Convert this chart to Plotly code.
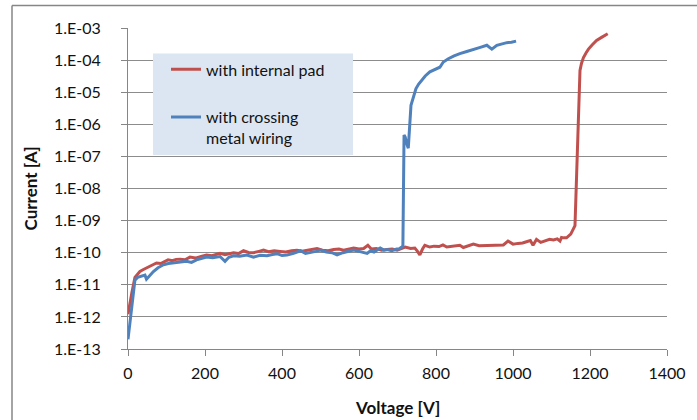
import plotly.graph_objects as go

# ---- data ----
v_internal = [0, 5, 10, 18, 25, 31, 40, 50, 57, 65, 74, 85, 95, 104, 115, 125, 135, 148, 161, 175,
              190, 204, 218, 230, 239, 252, 262, 274, 287, 300, 313, 326, 340, 352, 365, 380, 395, 410,
              425, 439, 452, 465, 478, 491, 505, 520, 534, 548, 560, 573, 586, 600, 612, 623, 632, 645,
              659, 673, 686, 699, 708, 720, 734, 745, 752, 758, 765, 771, 784, 795, 808, 818, 828, 836,
              850, 862, 871, 884, 897, 912, 931, 948, 962, 975, 987, 1000, 1013, 1025, 1035, 1045, 1052,
              1061, 1072, 1085, 1095, 1105, 1115, 1122, 1126, 1132, 1139, 1150, 1161, 1167, 1174, 1178,
              1183, 1190, 1196, 1206, 1217, 1230, 1246]
i_internal = [1.2e-12, 3e-12, 5.6e-12, 1.7e-11, 2.2e-11, 2.6e-11, 3.0e-11, 3.4e-11, 3.8e-11, 4.2e-11,
              4.8e-11, 4.6e-11, 5.3e-11, 6.0e-11, 5.6e-11, 6.2e-11, 6.3e-11, 6.0e-11, 7.3e-11, 6.8e-11,
              7.6e-11, 8.5e-11, 8.0e-11, 8.8e-11, 9.5e-11, 8.6e-11, 9.2e-11, 1.0e-10, 9.4e-11, 1.15e-10,
              1.02e-10, 1.0e-10, 1.1e-10, 1.2e-10, 1.08e-10, 1.15e-10, 1.1e-10, 1.05e-10, 1.15e-10, 1.2e-10,
              1.12e-10, 1.18e-10, 1.25e-10, 1.35e-10, 1.2e-10, 1.15e-10, 1.25e-10, 1.3e-10, 1.2e-10,
              1.28e-10, 1.4e-10, 1.3e-10, 1.35e-10, 1.7e-10, 1.3e-10, 1.35e-10, 1.2e-10, 1.25e-10, 1.3e-10,
              1.2e-10, 1.3e-10, 1.5e-10, 1.35e-10, 1.4e-10, 1.1e-10, 8.5e-11, 1.3e-10, 1.7e-10, 1.5e-10,
              1.6e-10, 1.55e-10, 1.75e-10, 1.5e-10, 1.55e-10, 1.6e-10, 1.7e-10, 1.45e-10, 1.6e-10, 1.85e-10,
              1.65e-10, 1.7e-10, 1.75e-10, 1.8e-10, 1.75e-10, 2.3e-10, 1.85e-10, 1.95e-10, 2.0e-10, 2.2e-10,
              2.4e-10, 1.7e-10, 2.6e-10, 2.1e-10, 2.4e-10, 2.6e-10, 2.5e-10, 2.7e-10, 2.3e-10, 3.0e-10,
              2.9e-10, 2.9e-10, 3.8e-10, 7e-10, 1.2e-7, 4.8e-5, 8e-5, 1.2e-4, 1.7e-4, 2.2e-4, 3.0e-4,
              4.1e-4, 5.1e-4, 6.6e-4]

v_crossing = [0, 5, 10, 18, 25, 31, 38, 44, 48, 55, 66, 78, 92, 105, 118, 135, 152, 165, 178, 190, 204,
              220, 239, 252, 262, 274, 290, 309, 326, 343, 361, 375, 387, 400, 413, 430, 448, 461, 475,
              488, 500, 515, 530, 543, 558, 572, 586, 600, 612, 621, 630, 639, 655, 665, 673, 685, 698,
              704, 711, 714, 717, 720, 724, 728, 735, 742, 748, 755, 762, 772, 784, 797, 810, 819, 832,
              847, 862, 880, 897, 915, 932, 945, 958, 971, 984, 996, 1008]
i_crossing = [2e-13, 6e-13, 2.1e-12, 1.4e-11, 1.7e-11, 1.8e-11, 2.0e-11, 2.0e-11, 1.5e-11, 1.9e-11,
              2.6e-11, 3.4e-11, 4.2e-11, 4.6e-11, 4.8e-11, 5.0e-11, 5.4e-11, 5.0e-11, 6.0e-11, 6.6e-11,
              7.3e-11, 7.0e-11, 7.6e-11, 5.4e-11, 7.2e-11, 8.0e-11, 7.8e-11, 8.5e-11, 7.3e-11, 8.3e-11,
              8.0e-11, 8.8e-11, 9.3e-11, 8.2e-11, 8.5e-11, 9.5e-11, 1.15e-10, 9.5e-11, 1.0e-10, 1.1e-10,
              1.2e-10, 1.05e-10, 1.0e-10, 8.5e-11, 1.0e-10, 1.1e-10, 1.2e-10, 1.1e-10, 1.0e-10, 9.5e-11,
              1.15e-10, 1.05e-10, 1.4e-10, 1.2e-10, 1.25e-10, 1.15e-10, 1.3e-10, 1.3e-10, 1.5e-10, 1.6e-10,
              4.6e-7, 4.0e-7, 2.5e-7, 1.8e-7, 3.9e-6, 8e-6, 1.3e-5, 1.8e-5, 2.3e-5, 3.2e-5, 4.3e-5, 5.2e-5,
              6.0e-5, 8.7e-5, 1.1e-4, 1.35e-4, 1.6e-4, 1.85e-4, 2.1e-4, 2.5e-4, 2.9e-4, 2.2e-4, 2.9e-4,
              3.2e-4, 3.5e-4, 3.6e-4, 3.9e-4]

y_tickvals = [1e-13, 1e-12, 1e-11, 1e-10, 1e-9, 1e-8, 1e-7, 1e-6, 1e-5, 1e-4, 1e-3]
y_ticktext = ["1.E-13", "1.E-12", "1.E-11", "1.E-10", "1.E-09", "1.E-08", "1.E-07",
              "1.E-06", "1.E-05", "1.E-04", "1.E-03"]
x_tickvals = [0, 200, 400, 600, 800, 1000, 1200, 1400]

RED = "#c0504d"
BLUE = "#4f81bd"
FONT = "Lato"
TXT = "#111111"

W, H = 697, 420
L, R, T, B = 128, 667, 27.5, 349.5  # plot area pixels


def px(x):
    return (x - L) / (R - L)


def py(y):
    return (B - y) / (B - T)


fig = go.Figure()
fig.add_trace(go.Scatter(x=v_internal, y=i_internal, mode="lines", name="with internal pad",
                         legendgroup="a", line=dict(color=RED, width=3)))
fig.add_trace(go.Scatter(x=v_crossing, y=i_crossing, mode="lines", name="with crossing<br>metal wiring",
                         legendgroup="b", line=dict(color=BLUE, width=3)))

fig.update_layout(
    width=W, height=H,
    margin=dict(l=L, r=W - R, t=T, b=H - B, autoexpand=False),
    paper_bgcolor="white", plot_bgcolor="white",
    font=dict(family=FONT, size=16, color=TXT),
    showlegend=True,
    legend=dict(x=px(166), y=py(52), xanchor="left", yanchor="top",
                bgcolor="rgba(0,0,0,0)", borderwidth=0, valign="top",
                font=dict(family=FONT, size=16, color=TXT),
                tracegroupgap=24, traceorder="grouped"),
    xaxis=dict(range=[0, 1400], tickvals=x_tickvals, ticks="outside", ticklen=6,
               tickcolor="#868686", showline=True, linecolor="#868686", showgrid=False,
               zeroline=False, automargin=False, ticklabelstandoff=4),
    yaxis=dict(type="log", range=[-13, -3], tickvals=y_tickvals, ticktext=y_ticktext,
               ticks="outside", ticklen=6, tickcolor="#868686", showline=True, linecolor="#868686",
               showgrid=True, gridcolor="#8c8c8c", gridwidth=1, zeroline=False, automargin=False,
               ticklabelstandoff=17),
    annotations=[
        dict(text="<b>Current [A]</b>", xref="paper", yref="paper", x=px(30), y=py(188.5),
             textangle=-90, showarrow=False, xanchor="center", yanchor="middle",
             font=dict(family=FONT, size=17, color=TXT)),
        dict(text="<b>Voltage [V]</b>", xref="paper", yref="paper", x=px(397.5), y=py(408),
             showarrow=False, xanchor="center", yanchor="middle",
             font=dict(family=FONT, size=17, color=TXT)),
    ],
    shapes=[
        dict(type="rect", xref="paper", yref="paper", x0=px(153), x1=px(353), y0=py(155), y1=py(53),
             fillcolor="#dce6f2", line=dict(width=0), layer="above"),
        dict(type="line", xref="paper", yref="paper", x0=px(12), x1=px(12), y0=py(5), y1=py(421),
             line=dict(color="#868686", width=1.5)),
        dict(type="line", xref="paper", yref="paper", x0=px(12), x1=px(698), y0=py(5), y1=py(5),
             line=dict(color="#868686", width=1.5)),
    ],
)

fig.write_html("out.html", config={"displayModeBar": False},
               post_script="document.body.style.margin='0';document.body.style.overflow='hidden';")
